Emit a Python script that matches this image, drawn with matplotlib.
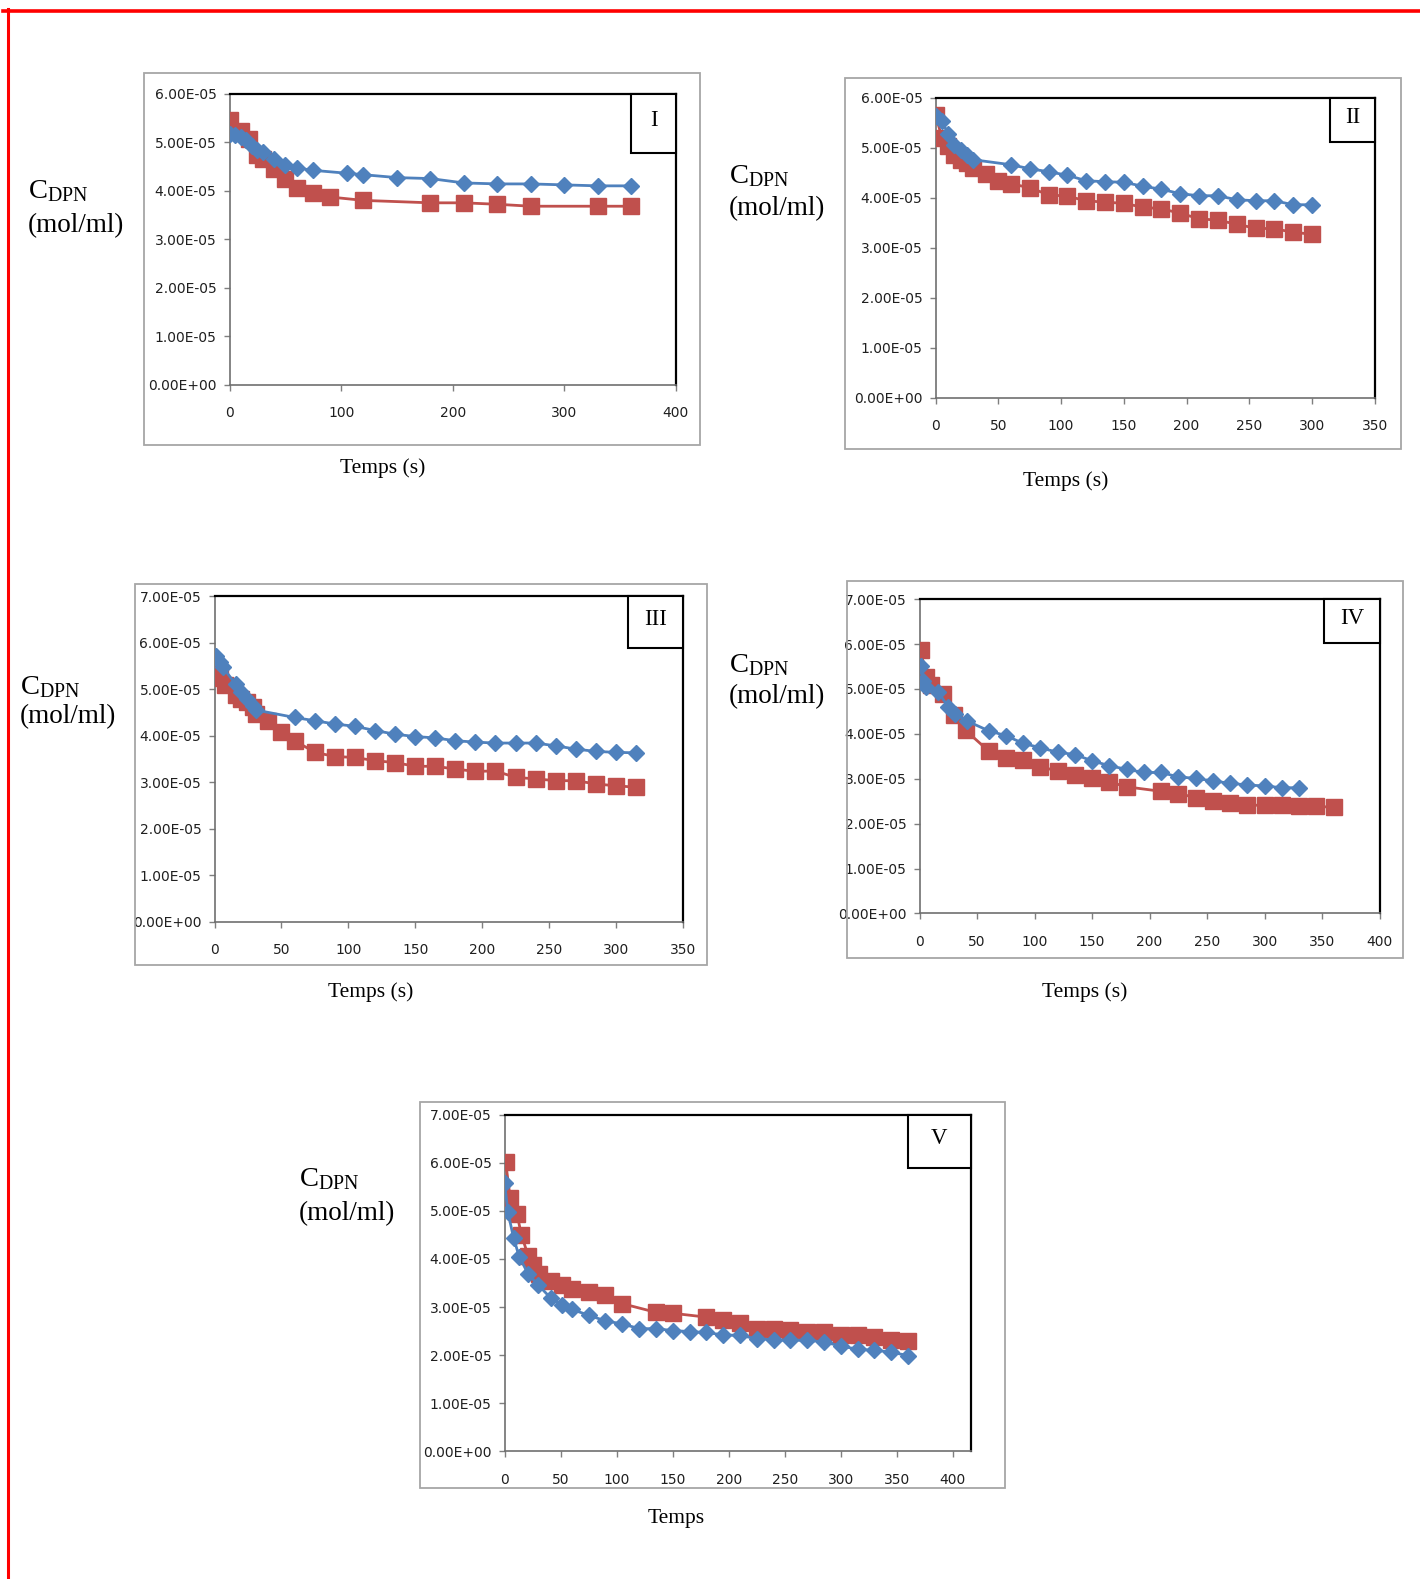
import matplotlib
matplotlib.use("Agg")
import matplotlib.pyplot as plt
from matplotlib.patches import Rectangle
from matplotlib.lines import Line2D
from matplotlib.ticker import FuncFormatter, MultipleLocator

plt.rcParams["mathtext.fontset"] = "custom"
plt.rcParams["mathtext.rm"] = "Liberation Serif"
plt.rcParams["mathtext.it"] = "Liberation Serif:italic"

SCALE = 1e-5  # concentrations below are in units of 1e-5 mol/ml

# ---------------- Panel I ----------------
t_I_blue = [0, 5, 10, 15, 20, 25, 30, 40, 50, 60, 75, 105, 120, 150, 180, 210, 240, 270, 300, 330, 360]
c_I_blue = [5.17, 5.14, 5.11, 5.04, 4.93, 4.83, 4.80, 4.66, 4.52, 4.47, 4.42, 4.36, 4.33, 4.27, 4.25, 4.16, 4.14, 4.14, 4.12, 4.10, 4.10]
t_I_red = [0, 10, 17, 25, 30, 40, 50, 60, 75, 90, 120, 180, 210, 240, 270, 330, 360]
c_I_red = [5.45, 5.24, 5.06, 4.73, 4.66, 4.45, 4.25, 4.06, 3.95, 3.87, 3.80, 3.75, 3.75, 3.72, 3.68, 3.68, 3.68]

# ---------------- Panel II ----------------
t_II_blue = [0, 5, 10, 15, 20, 25, 30, 60, 75, 90, 105, 120, 135, 150, 165, 180, 195, 210, 225, 240, 255, 270, 285, 300]
c_II_blue = [5.63, 5.53, 5.28, 5.06, 4.96, 4.86, 4.76, 4.66, 4.58, 4.52, 4.45, 4.34, 4.32, 4.31, 4.23, 4.17, 4.08, 4.04, 4.04, 3.96, 3.94, 3.94, 3.86, 3.86]
t_II_red = [0, 5, 10, 15, 20, 25, 30, 40, 50, 60, 75, 90, 105, 120, 135, 150, 165, 180, 195, 210, 225, 240, 255, 270, 285, 300]
c_II_red = [5.66, 5.20, 5.03, 4.86, 4.76, 4.70, 4.60, 4.48, 4.33, 4.28, 4.20, 4.06, 4.03, 3.94, 3.91, 3.89, 3.81, 3.78, 3.69, 3.58, 3.55, 3.47, 3.39, 3.38, 3.31, 3.27]

# ---------------- Panel III ----------------
t_III_blue = [1, 4, 6, 16, 20, 24, 29, 31, 60, 75, 90, 105, 120, 135, 150, 165, 180, 195, 210, 225, 240, 255, 270, 285, 300, 315]
c_III_blue = [5.71, 5.58, 5.48, 5.10, 4.93, 4.79, 4.64, 4.55, 4.39, 4.32, 4.25, 4.20, 4.11, 4.03, 3.98, 3.95, 3.89, 3.86, 3.84, 3.84, 3.84, 3.78, 3.71, 3.66, 3.64, 3.63]
t_III_red = [0, 4, 8, 16, 20, 24, 29, 31, 40, 50, 60, 75, 90, 105, 120, 135, 150, 165, 180, 195, 210, 225, 240, 255, 270, 285, 300, 315]
c_III_red = [5.53, 5.25, 5.08, 4.88, 4.79, 4.72, 4.61, 4.47, 4.32, 4.07, 3.89, 3.64, 3.55, 3.53, 3.46, 3.42, 3.34, 3.34, 3.28, 3.23, 3.24, 3.10, 3.07, 3.03, 3.03, 2.96, 2.92, 2.89]

# ---------------- Panel IV ----------------
t_IV_blue = [1, 3, 6, 16, 25, 31, 41, 60, 75, 90, 105, 120, 135, 150, 165, 180, 195, 210, 225, 240, 255, 270, 285, 300, 315, 330]
c_IV_blue = [5.52, 5.17, 5.05, 4.94, 4.60, 4.45, 4.29, 4.07, 3.96, 3.79, 3.69, 3.59, 3.54, 3.40, 3.29, 3.21, 3.14, 3.14, 3.04, 3.01, 2.95, 2.90, 2.86, 2.84, 2.80, 2.80]
t_IV_red = [1, 6, 10, 20, 30, 40, 60, 75, 90, 105, 120, 135, 150, 165, 180, 210, 225, 240, 255, 270, 285, 300, 315, 330, 345, 360]
c_IV_red = [5.86, 5.27, 5.09, 4.88, 4.42, 4.08, 3.62, 3.47, 3.42, 3.27, 3.17, 3.08, 3.01, 2.93, 2.82, 2.72, 2.67, 2.58, 2.51, 2.47, 2.41, 2.41, 2.41, 2.39, 2.39, 2.36]

# ---------------- Panel V ----------------
t_V_blue = [0, 3, 8, 13, 21, 30, 41, 51, 60, 75, 90, 105, 120, 135, 150, 165, 180, 195, 210, 225, 240, 255, 270, 285, 300, 315, 330, 345, 360]
c_V_blue = [5.58, 4.97, 4.44, 4.05, 3.69, 3.46, 3.19, 3.05, 2.95, 2.83, 2.71, 2.65, 2.55, 2.55, 2.51, 2.49, 2.47, 2.42, 2.41, 2.34, 2.32, 2.31, 2.31, 2.27, 2.19, 2.12, 2.10, 2.06, 1.99]
t_V_red = [1, 5, 11, 15, 21, 25, 31, 41, 51, 60, 75, 90, 105, 135, 150, 180, 195, 210, 225, 240, 255, 270, 285, 300, 315, 330, 345, 360]
c_V_red = [6.01, 5.26, 4.94, 4.50, 4.07, 3.88, 3.69, 3.55, 3.46, 3.37, 3.31, 3.24, 3.07, 2.89, 2.87, 2.79, 2.72, 2.67, 2.55, 2.55, 2.53, 2.49, 2.48, 2.42, 2.42, 2.38, 2.31, 2.29]

panel_names = ["I", "II", "III", "IV", "V"]
x_labels = ["Temps (s)", "Temps (s)", "Temps (s)", "Temps (s)", "Temps"]
y_maxes = [6, 6, 7, 7, 7]          # in 1e-5
x_maxes = [400, 350, 350, 400, 416]
x_steps = [100, 50, 50, 50, 50]
x_tick_max = [400, 350, 350, 400, 400]

series = [
    (t_I_blue, c_I_blue, t_I_red, c_I_red),
    (t_II_blue, c_II_blue, t_II_red, c_II_red),
    (t_III_blue, c_III_blue, t_III_red, c_III_red),
    (t_IV_blue, c_IV_blue, t_IV_red, c_IV_red),
    (t_V_blue, c_V_blue, t_V_red, c_V_red),
]

# ---------------- layout (pixels) ----------------
W, H = 1420, 1579
fig = plt.figure(figsize=(W / 100, H / 100), dpi=100)

axes_px = [(229.6, 93.7, 675.8, 384.7),
           (935.6, 97.7, 1374.7, 397.8),
           (214.5, 596.2, 682.8, 921.5),
           (919.5, 599.2, 1379.7, 913.4),
           (504.6, 1114.8, 970.8, 1451.2)]
outer_px = [(144, 72.5, 700, 445),
            (845, 78.5, 1401, 449),
            (135, 584, 707, 965),
            (847, 581, 1403, 958),
            (420, 1102, 1005, 1488)]
box_px = [(631.5, 93.7, 675.8, 153),
          (1330, 97.7, 1374.7, 142),
          (628.4, 596.2, 682.8, 647.6),
          (1324, 599.2, 1379.7, 642.5),
          (908, 1114.8, 970.8, 1168)]
xlabel_px = [(382.7, 468), (1065.5, 481), (370.6, 992), (1084.6, 992), (675.8, 1518)]
ylabel_px = [(28, 191, 225.6), (729, 176, 208.5), (20, 687, 717), (729, 665, 697), (299, 1179, 1213.5)]

BLUE = "#4F81BD"
RED = "#C0504D"
TICKFONT = ["DejaVu Sans"]
SERIF = ["Liberation Serif", "DejaVu Serif"]


def fx(x):
    return x / W


def fy(y):
    return 1 - y / H


# red page border
fig.add_artist(Line2D([fx(3), 1.0], [fy(10.5), fy(10.5)], color="#FF0000", lw=2.6))
fig.add_artist(Line2D([fx(8), fx(8)], [fy(9), 0.0], color="#FF0000", lw=2.2))

sci = FuncFormatter(lambda v, p: "{:.2E}".format(v))

for i in range(5):
    tb, cb, tr, cr = series[i]
    x0, y0, x1, y1 = axes_px[i]
    ax = fig.add_axes([fx(x0), fy(y1), fx(x1) - fx(x0), fy(y0) - fy(y1)])

    # outer chart frame
    ox0, oy0, ox1, oy1 = outer_px[i]
    fig.add_artist(Rectangle((fx(ox0), fy(oy1)), fx(ox1) - fx(ox0), fy(oy0) - fy(oy1),
                             transform=fig.transFigure, fill=False,
                             edgecolor="#A6A6A6", lw=1.3))

    ax.plot(tb, [v * SCALE for v in cb], color=BLUE, lw=2.0, marker="D",
            markersize=8, markerfacecolor=BLUE, markeredgecolor=BLUE, zorder=4)
    ax.plot(tr, [v * SCALE for v in cr], color=RED, lw=2.0, marker="s",
            markersize=11.5, markerfacecolor=RED, markeredgecolor=RED, zorder=3)

    ax.set_xlim(0, x_maxes[i])
    ax.set_ylim(0, y_maxes[i] * SCALE)
    ax.set_xticks(list(range(0, x_tick_max[i] + 1, x_steps[i])))
    ax.yaxis.set_major_locator(MultipleLocator(1e-5))
    ax.yaxis.set_major_formatter(sci)
    ax.tick_params(direction="out", length=4.5, width=1.0, color="#7F7F7F",
                   labelsize=10, labelcolor="#1F1F1F")
    ax.tick_params(axis="y", pad=5)
    ax.tick_params(axis="x", pad=11)
    for lab in ax.get_xticklabels() + ax.get_yticklabels():
        lab.set_family(TICKFONT)

    for s in ("top", "right"):
        ax.spines[s].set_color("black")
        ax.spines[s].set_linewidth(1.6)
    for s in ("left", "bottom"):
        ax.spines[s].set_color("#6F6F6F")
        ax.spines[s].set_linewidth(1.2)

    # numbered label box
    bx0, by0, bx1, by1 = box_px[i]
    ax0 = (bx0 - x0) / (x1 - x0)
    ax1 = (bx1 - x0) / (x1 - x0)
    ay0 = (y1 - by1) / (y1 - y0)
    ay1 = (y1 - by0) / (y1 - y0)
    ax.add_patch(Rectangle((ax0, ay0), ax1 - ax0, ay1 - ay0, transform=ax.transAxes,
                           facecolor="white", edgecolor="black", lw=1.5,
                           zorder=6, clip_on=False))
    ax.text((ax0 + ax1) / 2, ay1 - (ay1 - ay0) * 0.45, panel_names[i], transform=ax.transAxes,
            ha="center", va="center", fontsize=16.5, family=SERIF, zorder=7)

    # axis labels
    lx, ly = xlabel_px[i]
    fig.text(fx(lx), fy(ly), x_labels[i], ha="center", va="center",
             fontsize=15.5, family=SERIF)
    yx, yy1, yy2 = ylabel_px[i]
    fig.text(fx(yx), fy(yy1), r"C$_{\mathrm{DPN}}$", ha="left", va="center",
             fontsize=20.5, family=SERIF)
    fig.text(fx(yx), fy(yy2), "(mol/ml)", ha="left", va="center",
             fontsize=19.5, family=SERIF)

fig.savefig("out.png", dpi=100)
